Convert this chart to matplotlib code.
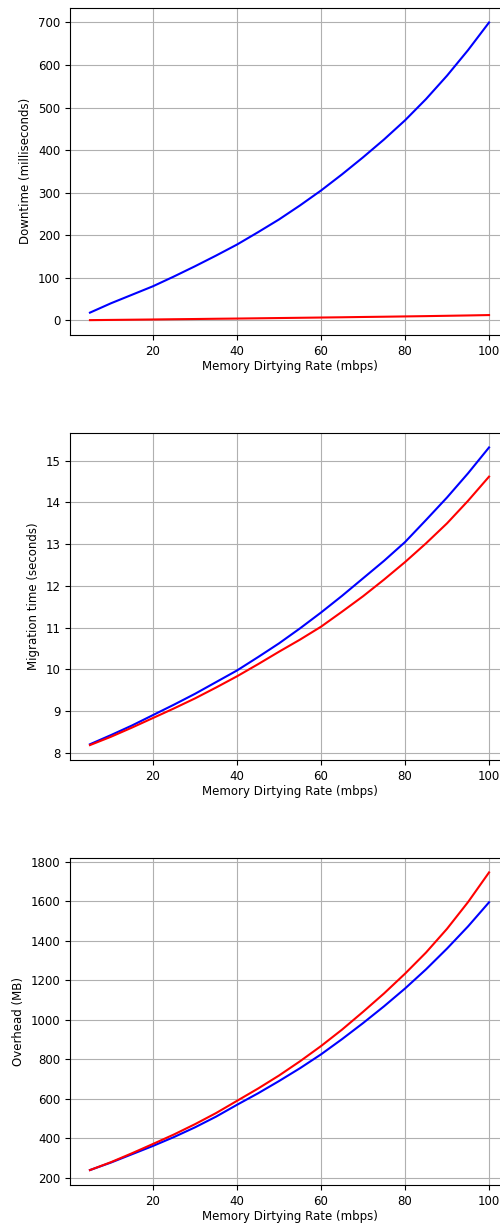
import numpy as np
import matplotlib
matplotlib.use("Agg")
import matplotlib.pyplot as plt

# memory dirtying rate (mbps)
rate = [5, 10, 15, 20, 25, 30, 35, 40, 45, 50, 55, 60, 65, 70, 75, 80, 85, 90, 95, 100]

# downtime (ms)
down_blue = [18, 40, 60, 80, 103, 127, 152, 178, 207, 237, 270, 305, 343, 383, 425, 470, 520, 575, 635, 700]
down_red = [0.4, 0.9, 1.4, 1.9, 2.5, 3.0, 3.6, 4.1, 4.7, 5.3, 5.9, 6.5, 7.1, 7.8, 8.4, 9.1, 9.8, 10.6, 11.4, 12.3]

# migration time (s)
mig_blue = [8.20, 8.42, 8.65, 8.90, 9.15, 9.41, 9.69, 9.97, 10.29, 10.62, 10.98, 11.36, 11.76, 12.18, 12.60, 13.05, 13.58, 14.12, 14.70, 15.32]
mig_red = [8.18, 8.38, 8.60, 8.83, 9.06, 9.30, 9.56, 9.83, 10.12, 10.42, 10.71, 11.02, 11.38, 11.75, 12.15, 12.57, 13.02, 13.50, 14.04, 14.62]

# overhead (MB)
ovh_blue = [240, 278, 320, 362, 407, 456, 510, 570, 628, 690, 755, 825, 902, 983, 1068, 1158, 1255, 1360, 1472, 1594]
ovh_red = [240, 280, 325, 372, 420, 472, 528, 590, 652, 718, 790, 867, 950, 1040, 1133, 1233, 1340, 1460, 1595, 1745]

plt.rcParams['font.size'] = 8.5

fig = plt.figure(figsize=(5, 12.24), dpi=100)

# panels cut off on the right, like the original screenshot
panels = [
    (0.7263, down_blue, down_red, "Downtime (milliseconds)"),
    (0.3791, mig_blue, mig_red, "Migration time (seconds)"),
    (0.0319, ovh_blue, ovh_red, "Overhead (MB)"),
]

for bottom, blue, red, ylab in panels:
    ax = fig.add_axes([0.14, bottom, 0.878, 0.2675])
    ax.plot(rate, blue, color='blue', lw=1.5)
    ax.plot(rate, red, color='red', lw=1.5)
    ax.grid(True)
    ax.set_xlabel("Memory Dirtying Rate (mbps)", labelpad=1.5)
    ax.set_ylabel(ylab)

plt.savefig("out.png", dpi=100)
